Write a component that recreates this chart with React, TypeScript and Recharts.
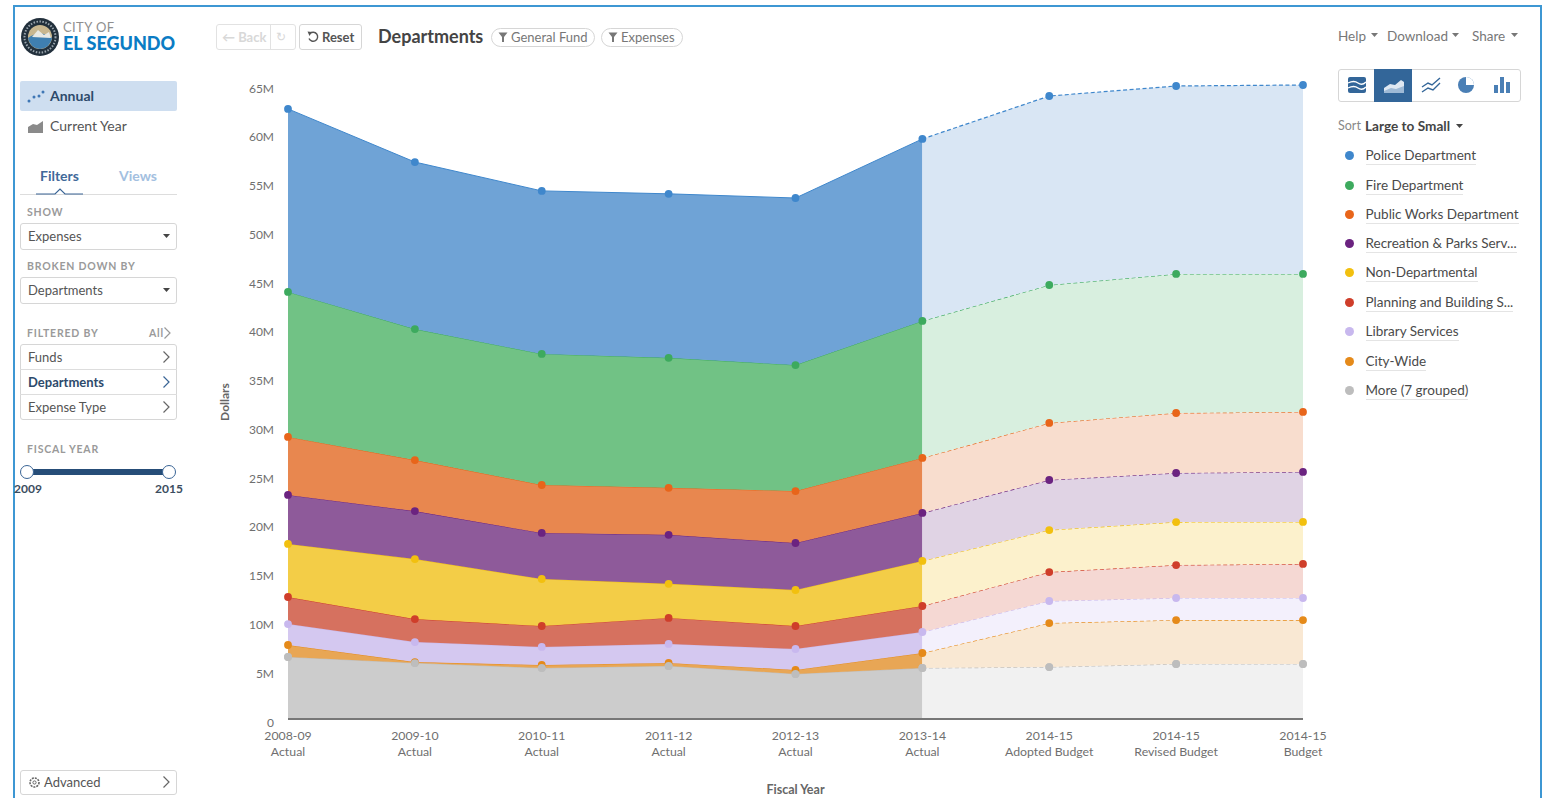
import React from "react";
import { AreaChart, Area, XAxis, YAxis } from "recharts";

const FONT = "Lato, 'Open Sans', sans-serif";

const years = ["2008-09", "2009-10", "2010-11", "2011-12", "2012-13", "2013-14", "2014-15", "2014-15", "2014-15"];
const kinds = ["Actual", "Actual", "Actual", "Actual", "Actual", "Actual", "Adopted Budget", "Revised Budget", "Budget"];
const yTicks = [0, 5, 10, 15, 20, 25, 30, 35, 40, 45, 50, 55, 60, 65];
const lastActual = 5;

// $M per department
const more = [6.36, 5.74, 5.23, 5.44, 4.62, 5.23, 5.33, 5.64, 5.64];
const cityWide = [1.23, 0.1, 0.31, 0.31, 0.41, 1.54, 4.51, 4.51, 4.51];
const library = [2.15, 2.05, 1.85, 1.95, 2.15, 2.15, 2.26, 2.26, 2.26];
const planning = [2.77, 2.36, 2.15, 2.67, 2.36, 2.67, 2.97, 3.38, 3.49];
const nonDept = [5.44, 6.15, 4.82, 3.49, 3.69, 4.62, 4.31, 4.41, 4.31];
const recreation = [5.03, 4.92, 4.72, 5.03, 4.82, 4.92, 5.13, 5.03, 5.13];
const publicWorks = [5.95, 5.23, 4.92, 4.82, 5.33, 5.64, 5.85, 6.15, 6.15];
const fire = [14.87, 13.44, 13.44, 13.33, 12.92, 14.05, 14.15, 14.26, 14.15];
const police = [18.77, 17.13, 16.72, 16.82, 17.13, 18.67, 19.38, 19.28, 19.38];

// bottom of the stack first
const series = [
  { key: "more", values: more, dot: "#BDBDBD", fill: "#CCCCCC", pale: "#F1F1F1" },
  { key: "cityWide", values: cityWide, dot: "#E58A1A", fill: "#E8A655", pale: "#F9E8D3" },
  { key: "library", values: library, dot: "#C8B8EE", fill: "#D4C8F0", pale: "#F3F0FC" },
  { key: "planning", values: planning, dot: "#CF3E2A", fill: "#D6715F", pale: "#F5D8D3" },
  { key: "nonDept", values: nonDept, dot: "#F2C00F", fill: "#F3CD47", pale: "#FCF1CC" },
  { key: "recreation", values: recreation, dot: "#6B2380", fill: "#8E5A9A", pale: "#E0D3E4" },
  { key: "publicWorks", values: publicWorks, dot: "#E8651A", fill: "#E8874F", pale: "#F8DDCE" },
  { key: "fire", values: fire, dot: "#3DAA5E", fill: "#71C285", pale: "#D8EFDF" },
  { key: "police", values: police, dot: "#3F87CC", fill: "#6FA3D6", pale: "#D9E6F4" },
];

const legendNames = [
  "Police Department",
  "Fire Department",
  "Public Works Department",
  "Recreation & Parks Serv...",
  "Non-Departmental",
  "Planning and Building S...",
  "Library Services",
  "City-Wide",
  "More (7 grouped)",
];
const legendColors = ["#3F87CC", "#3DAA5E", "#E8651A", "#6B2380", "#F2C00F", "#CF3E2A", "#C8B8EE", "#E58A1A", "#BDBDBD"];
const legendTops = [155, 185, 214, 243, 272, 302, 331, 361, 390];

const rows = years.map((year, i) => {
  const row: any = { id: i, year, kind: kinds[i] };
  series.forEach((s) => {
    row["a_" + s.key] = i <= lastActual ? s.values[i] : null;
    row["b_" + s.key] = i >= lastActual ? s.values[i] : null;
    row["d_" + s.key] = s.values[i];
  });
  return row;
});

const XTick = ({ x, y, payload }: any) => {
  const i = payload.value;
  return (
    <text x={x} textAnchor="middle" fontFamily={FONT} fontSize={12.3} fill="#6f6f6f">
      <tspan x={x} y={y + 13}>{years[i]}</tspan>
      <tspan x={x} y={y + 29}>{kinds[i]}</tspan>
    </text>
  );
};

const YTick = ({ y, payload }: any) => (
  <text x={274} y={y + 7.5} textAnchor="end" fontFamily={FONT} fontSize={12} fill="#6f6f6f">
    {payload.value === 0 ? "0" : payload.value + "M"}
  </text>
);

// text placed by its vertical centre
const T = ({ x, y, size = 13, color = "#555", weight = 400, spacing = 0, children, center = false }: any) => (
  <div
    style={{
      position: "absolute",
      left: x,
      top: y - 10,
      height: 20,
      lineHeight: "20px",
      fontSize: size,
      color,
      fontWeight: weight,
      letterSpacing: spacing,
      whiteSpace: "nowrap",
      transform: center ? "translateX(-50%)" : undefined,
    }}
  >
    {children}
  </div>
);

const Box = ({ x, y, w, h, color = "#d6d6d6", bg = "#fff", radius = 3, children }: any) => (
  <div
    style={{
      position: "absolute",
      left: x,
      top: y,
      width: w,
      height: h,
      boxSizing: "border-box",
      border: `1px solid ${color}`,
      background: bg,
      borderRadius: radius,
    }}
  >
    {children}
  </div>
);

const Chevron = ({ x, y, color = "#666" }: any) => (
  <svg style={{ position: "absolute", left: x, top: y - 7 }} width={9} height={14}>
    <path d="M1.5 1.5 L7 7 L1.5 12.5" fill="none" stroke={color} strokeWidth={1.2} />
  </svg>
);

const Caret = ({ x, y, color = "#444" }: any) => (
  <svg style={{ position: "absolute", left: x, top: y - 2 }} width={8} height={5}>
    <path d="M0 0 L7 0 L3.5 4 Z" fill={color} />
  </svg>
);

const Funnel = ({ x, y }: any) => (
  <svg style={{ position: "absolute", left: x, top: y - 5 }} width={10} height={11}>
    <path d="M0.5 0.5 L9.5 0.5 L6 5 L6 10 L4 10 L4 5 Z" fill="#777" />
  </svg>
);

const Seal = () => (
  <svg style={{ position: "absolute", left: 20, top: 17 }} width={40} height={40}>
    <circle cx={20} cy={20} r={19} fill="#22303c" />
    <circle cx={20} cy={20} r={15.5} fill="none" stroke="#9aa5ad" strokeWidth={2} strokeDasharray="1.5 1.5" />
    <circle cx={20} cy={20} r={12} fill="#c9b78f" />
    <path d="M8 21 Q20 12 32 21 Q30 31 20 32 Q10 31 8 21 Z" fill="#3f7fb0" />
    <path d="M12 20 L18 13 L24 18 L29 15 L31 21 Z" fill="#e9e9e4" />
  </svg>
);

const Toolbar = () => (
  <>
    <Box x={1338} y={69} w={183} h={33} />
    <div style={{ position: "absolute", left: 1374, top: 69, width: 38, height: 33, background: "#336699" }} />
    <svg style={{ position: "absolute", left: 1338, top: 69 }} width={183} height={33}>
      <rect x={10} y={8} width={18} height={16} rx={2} fill="#336699" />
      <path d="M10 14 Q16 11 20 14 T28 13 M10 19 Q16 16 20 19 T28 18" stroke="#fff" strokeWidth={1.3} fill="none" />
      <path d="M46 24 L46 19 L52 15 L57 16 L63 11 L66 13 L66 24 Z" fill="#dfe8f2" />
      <path d="M46 24 L46 22 L53 19 L58 20 L66 17 L66 24 Z" fill="#9fbad6" />
      <path d="M84 18 L90 14 L94 16 L102 9 M84 23 L90 19 L95 21 L102 14" stroke="#336699" strokeWidth={1.4} fill="none" />
      <circle cx={128} cy={16} r={8} fill="#4a7fb5" />
      <path d="M128 16 L128 8 A8 8 0 0 1 136 16 Z" fill="#fff" />
      <rect x={156} y={16} width={4} height={8} fill="#4a7fb5" />
      <rect x={162} y={8} width={4} height={16} fill="#4a7fb5" />
      <rect x={168} y={13} width={4} height={11} fill="#4a7fb5" />
    </svg>
  </>
);

const Sidebar = () => (
  <>
    <Seal />
    <T x={63} y={27} size={13} color="#8f8f8f" spacing={0.4}>CITY OF</T>
    <T x={63} y={43} size={18} color="#0B7CC4" weight={900}>EL SEGUNDO</T>

    <div style={{ position: "absolute", left: 20, top: 81, width: 157, height: 30, background: "#CEDEF0", borderRadius: 2 }} />
    <svg style={{ position: "absolute", left: 27, top: 90 }} width={19} height={14}>
      <circle cx={2} cy={11} r={1.5} fill="#3F77B5" />
      <circle cx={7} cy={7} r={1.5} fill="#3F77B5" />
      <circle cx={12} cy={6} r={1.5} fill="#3F77B5" />
      <circle cx={16} cy={2} r={1.5} fill="#3F77B5" />
    </svg>
    <T x={50} y={95.5} size={14} weight={700} color="#2d4a6b">Annual</T>
    <svg style={{ position: "absolute", left: 27, top: 120 }} width={18} height={14}>
      <path d="M1 13 L1 7 L6 4 L10 5 L16 1 L16 13 Z" fill="#8a8a8a" />
    </svg>
    <T x={50} y={126} size={14} color="#555">Current Year</T>

    <T x={40} y={176} size={14} weight={700} color="#41699a">Filters</T>
    <T x={119} y={176} size={14} weight={700} color="#a3c0e0">Views</T>
    <svg style={{ position: "absolute", left: 20, top: 186 }} width={157} height={10}>
      <path d="M0 8.5 L157 8.5" stroke="#ddd" />
      <path d="M16 8 L35 8 L40 3 L45 8 L63 8" stroke="#3a6596" strokeWidth={1.2} fill="#fff" />
    </svg>

    <T x={27} y={212} size={10.5} weight={700} color="#9a9a9a" spacing={0.8}>SHOW</T>
    <Box x={20} y={223} w={157} h={27} />
    <T x={28} y={236} size={13}>Expenses</T>
    <Caret x={163} y={236} />

    <T x={27} y={266} size={10.5} weight={700} color="#9a9a9a" spacing={0.8}>BROKEN DOWN BY</T>
    <Box x={20} y={277} w={157} h={27} />
    <T x={28} y={290} size={13}>Departments</T>
    <Caret x={163} y={290} />

    <T x={27} y={333} size={10.5} weight={700} color="#9a9a9a" spacing={0.8}>FILTERED BY</T>
    <T x={149} y={333} size={10.5} weight={700} color="#9a9a9a" spacing={0.8}>All</T>
    <Chevron x={163} y={333} color="#999" />
    <Box x={20} y={344} w={157} h={76} />
    <div style={{ position: "absolute", left: 20, top: 369, width: 157, height: 1, background: "#ddd" }} />
    <div style={{ position: "absolute", left: 20, top: 394, width: 157, height: 1, background: "#ddd" }} />
    <T x={28} y={357} size={13}>Funds</T>
    <T x={28} y={382} size={13} weight={700} color="#2d4a6b">Departments</T>
    <T x={28} y={407} size={13}>Expense Type</T>
    <Chevron x={162} y={357} />
    <Chevron x={162} y={382} color="#3a6596" />
    <Chevron x={162} y={407} />

    <T x={27} y={449} size={10.5} weight={700} color="#9a9a9a" spacing={0.8}>FISCAL YEAR</T>
    <svg style={{ position: "absolute", left: 13, top: 461 }} width={170} height={22}>
      <rect x={14} y={8} width={142} height={6} fill="#264d78" />
      <circle cx={14} cy={11} r={6.5} fill="#fff" stroke="#3a6596" />
      <circle cx={156} cy={11} r={6.5} fill="#fff" stroke="#3a6596" />
    </svg>
    <T x={28} y={489} size={12} weight={700} color="#3c4d60" center>2009</T>
    <T x={169} y={489} size={12} weight={700} color="#3c4d60" center>2015</T>

    <Box x={20} y={770} w={157} h={25} />
    <svg style={{ position: "absolute", left: 28, top: 776 }} width={13} height={13}>
      <circle cx={6.5} cy={6.5} r={4.5} fill="none" stroke="#666" strokeWidth={1.6} strokeDasharray="2 1" />
      <circle cx={6.5} cy={6.5} r={1.6} fill="none" stroke="#666" />
    </svg>
    <T x={44} y={782} size={13}>Advanced</T>
    <Chevron x={162} y={782} />
  </>
);

const Header = () => (
  <>
    <Box x={216} y={24} w={80} h={26} color="#e2e2e2" />
    <div style={{ position: "absolute", left: 270, top: 24, width: 1, height: 26, background: "#e2e2e2" }} />
    <T x={222} y={37} size={13} weight={700} color="#d8d8d8">← Back</T>
    <T x={276} y={37} size={12} color="#d8d8d8">↻</T>
    <Box x={299} y={24} w={63} h={26} />
    <svg style={{ position: "absolute", left: 307, top: 31 }} width={12} height={12}>
      <path d="M3 2.5 A4.5 4.5 0 1 1 2 7.5" fill="none" stroke="#555" strokeWidth={1.4} />
      <path d="M0.5 0.5 L5 1 L2.5 5 Z" fill="#555" />
    </svg>
    <T x={322} y={37} size={13} weight={700} color="#555">Reset</T>
    <T x={378} y={35.5} size={18} weight={700} color="#444">Departments</T>
    <Box x={491} y={28} w={104} h={19} radius={10} />
    <Funnel x={498} y={37} />
    <T x={511} y={37} size={13} color="#777">General Fund</T>
    <Box x={601} y={28} w={82} h={19} radius={10} />
    <Funnel x={608} y={37} />
    <T x={621} y={37} size={13} color="#777">Expenses</T>
    <T x={1338} y={36} size={13.5} color="#777">Help</T>
    <Caret x={1371} y={35} color="#777" />
    <T x={1387} y={36} size={13.5} color="#777">Download</T>
    <Caret x={1452} y={35} color="#777" />
    <T x={1472} y={36} size={13.5} color="#777">Share</T>
    <Caret x={1511} y={35} color="#777" />
  </>
);

const LegendList = () => (
  <>
    <T x={1338} y={126} size={12.5} color="#888">Sort</T>
    <T x={1365} y={126} size={13.6} weight={700} color="#444">Large to Small</T>
    <Caret x={1456} y={126} />
    {legendNames.map((name, i) => (
      <React.Fragment key={name}>
        <div
          style={{
            position: "absolute",
            left: 1344.5,
            top: legendTops[i] - 4.5,
            width: 9,
            height: 9,
            borderRadius: "50%",
            background: legendColors[i],
          }}
        />
        <T x={1365.5} y={legendTops[i]} size={13.5} color="#4a4a4a">
          <span style={{ borderBottom: "1px solid #e4e4e4", paddingBottom: 1 }}>{name}</span>
        </T>
      </React.Fragment>
    ))}
  </>
);

export default function App() {
  return (
    <div style={{ position: "absolute", left: 0, top: 0, width: 1552, height: 798, overflow: "hidden", background: "#fff", fontFamily: FONT }}>
      <div
        style={{
          position: "absolute",
          left: 13,
          top: 5,
          width: 1529,
          height: 800,
          boxSizing: "border-box",
          border: "2px solid #3D97D3",
        }}
      />
      <div style={{ position: "absolute", left: 0, top: 0 }}>
        <AreaChart width={1552} height={798} data={rows} margin={{ top: 85, right: 249, bottom: 0, left: 0 }}>
          <XAxis
            dataKey="id"
            type="category"
            interval={0}
            height={79}
            tickLine={false}
            axisLine={{ stroke: "#777", strokeWidth: 2 }}
            tick={<XTick />}
            label={{ value: "Fiscal Year", position: "insideBottom", offset: 4, fontFamily: FONT, fontSize: 12.5, fontWeight: 700, fill: "#666" }}
          />
          <YAxis
            type="number"
            domain={[0, 65]}
            ticks={yTicks}
            width={288}
            interval={0}
            tickLine={false}
            axisLine={false}
            tick={<YTick />}
            label={{ value: "Dollars", angle: -90, position: "insideLeft", offset: 225, textAnchor: "middle", fontFamily: FONT, fontSize: 12, fontWeight: 700, fill: "#666" }}
          />
          {series.map((s) => (
            <Area
              key={"a_" + s.key}
              dataKey={"a_" + s.key}
              stackId="actual"
              type="linear"
              fill={s.fill}
              fillOpacity={1}
              stroke={s.dot}
              strokeWidth={1}
              dot={false}
              activeDot={false}
              isAnimationActive={false}
            />
          ))}
          {series.map((s) => (
            <Area
              key={"b_" + s.key}
              dataKey={"b_" + s.key}
              stackId="budget"
              type="linear"
              fill={s.pale}
              fillOpacity={1}
              stroke={s.dot}
              strokeWidth={1.2}
              strokeDasharray="4 2.5"
              dot={false}
              activeDot={false}
              isAnimationActive={false}
            />
          ))}
          {/* separate invisible stack so the dots sit on top of every fill */}
          {series.map((s) => (
            <Area
              key={"d_" + s.key}
              dataKey={"d_" + s.key}
              stackId="dots"
              type="linear"
              fill="none"
              stroke="none"
              dot={{ r: 3.9, fill: s.dot, stroke: "none", fillOpacity: 1 }}
              activeDot={false}
              isAnimationActive={false}
            />
          ))}
          {/* grey dots lie over the orange ones where the two nearly touch */}
          <Area
            dataKey="d_more"
            type="linear"
            fill="none"
            stroke="none"
            dot={{ r: 3.9, fill: series[0].dot, stroke: "none", fillOpacity: 1 }}
            activeDot={false}
            isAnimationActive={false}
          />
        </AreaChart>
      </div>
      <Sidebar />
      <Header />
      <Toolbar />
      <LegendList />
    </div>
  );
}
